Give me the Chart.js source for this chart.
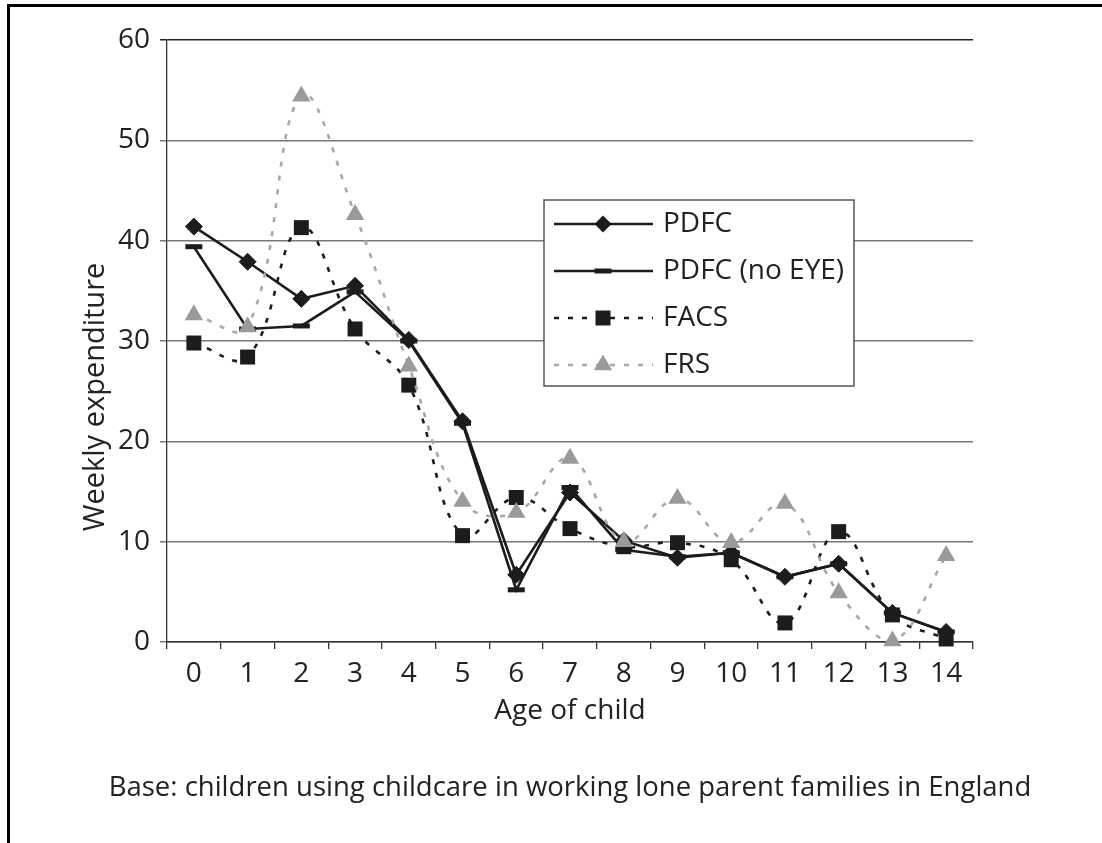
<!DOCTYPE html>
<html>
<head>
<meta charset="utf-8">
<script src="https://cdn.jsdelivr.net/npm/chart.js@4/dist/chart.umd.min.js"></script>
<style>
html,body{margin:0;padding:0;background:#fff;}
#wrap{position:relative;width:1102px;height:843px;overflow:hidden;background:#fff;}
#frame{position:absolute;left:7px;top:4px;width:1200px;height:1000px;border-top:3px solid #000;border-left:3px solid #000;}
#c{position:absolute;left:0;top:0;}
#note{position:absolute;left:0;width:1140px;top:771px;text-align:center;font-family:"Open Sans",sans-serif;font-size:27.5px;line-height:30px;color:#222;white-space:nowrap;}
</style>
</head>
<body>
<div id="wrap">
  <div id="frame"></div>
  <canvas id="c" width="1102" height="843"></canvas>
  <div id="note">Base: children using childcare in working lone parent families in England</div>
</div>
<script>
// ---- data ----
const ages = ['0','1','2','3','4','5','6','7','8','9','10','11','12','13','14'];
const pdfc      = [41.4, 37.9, 34.2, 35.5, 30.1, 22.0, 6.7, 14.9, 10.1, 8.4, 8.9, 6.5, 7.8, 2.9, 1.0];
const pdfcNoEye = [39.4, 31.2, 31.5, 34.9, 30.0, 21.8, 5.2, 15.4, 9.2, 8.5, 8.9, 6.5, 7.8, 2.9, 1.0];
const facs      = [29.8, 28.4, 41.3, 31.2, 25.6, 10.6, 14.4, 11.3, 9.5, 9.9, 8.2, 1.9, 11.0, 2.7, 0.3];
const frs       = [32.6, 31.4, 54.4, 42.6, 27.5, 14.0, 12.9, 18.3, 10.0, 14.3, 9.9, 13.8, 4.9, 0.1, 8.6];
const seriesNames = ['PDFC', 'PDFC (no EYE)', 'FACS', 'FRS'];
const yTicks = [0, 10, 20, 30, 40, 50, 60];
const xTitle = 'Age of child';
const yTitle = 'Weekly expenditure';

const FONT = '"Open Sans", sans-serif';
const DARK = '#1c1c1c';
const GREY = '#9a9a9a';

const styles = [
  {color: DARK, dash: [], point: 'rectRot', r: 8.5, pbw: 1, lw: 2.6, tension: 0, fill: DARK},
  {color: DARK, dash: [], point: 'line', r: 8.5, pbw: 5, lw: 2.6, tension: 0, fill: DARK},
  {color: DARK, dash: [5, 9], point: 'rect', r: 10.6, pbw: 0, lw: 2.6, tension: 0.4, fill: DARK},
  {color: '#a8a8a8', dash: [5, 9], point: 'triangle', r: 10.6, pbw: 0, lw: 2.6, tension: 0.4, fill: GREY}
];
const allData = [pdfc, pdfcNoEye, facs, frs];

const datasets = allData.map((d, i) => ({
  label: seriesNames[i],
  data: d,
  borderColor: styles[i].color,
  borderWidth: styles[i].lw,
  borderDash: styles[i].dash,
  tension: styles[i].tension,
  pointStyle: styles[i].point,
  pointRadius: styles[i].r,
  pointHoverRadius: styles[i].r,
  pointBackgroundColor: styles[i].fill,
  pointBorderColor: styles[i].fill,
  pointBorderWidth: styles[i].pbw,
  fill: false,
  clip: false,
  order: 4 - i
}));

function drawMarker(ctx, style, x, y) {
  const s = styles[style];
  ctx.save();
  ctx.setLineDash([]);
  ctx.fillStyle = s.fill;
  ctx.strokeStyle = s.fill;
  const r = s.r;
  ctx.beginPath();
  if (s.point === 'rectRot') {
    ctx.moveTo(x, y - r); ctx.lineTo(x + r, y); ctx.lineTo(x, y + r); ctx.lineTo(x - r, y); ctx.closePath();
    ctx.fill();
  } else if (s.point === 'line') {
    ctx.lineWidth = s.pbw;
    ctx.moveTo(x - r, y); ctx.lineTo(x + r, y); ctx.stroke();
  } else if (s.point === 'rect') {
    const h = r * Math.SQRT1_2;
    ctx.rect(x - h, y - h, 2 * h, 2 * h); ctx.fill();
  } else if (s.point === 'triangle') {
    ctx.moveTo(x, y - r);
    ctx.lineTo(x + r * Math.cos(Math.PI / 6), y + r / 2);
    ctx.lineTo(x - r * Math.cos(Math.PI / 6), y + r / 2);
    ctx.closePath(); ctx.fill();
  }
  ctx.restore();
}

const boxLegend = {
  id: 'boxLegend',
  afterDraw(chart) {
    const ctx = chart.ctx;
    const bx = 544, by = 200, bw = 310, bh = 186;
    ctx.save();
    ctx.fillStyle = '#fff';
    ctx.fillRect(bx, by, bw, bh);
    ctx.strokeStyle = '#555';
    ctx.lineWidth = 1.5;
    ctx.strokeRect(bx, by, bw, bh);
    seriesNames.forEach((name, i) => {
      const y = 224 + i * 47;
      const s = styles[i];
      ctx.save();
      ctx.strokeStyle = s.color;
      ctx.lineWidth = s.lw;
      ctx.setLineDash(s.dash);
      ctx.beginPath();
      ctx.moveTo(554, y); ctx.lineTo(653, y);
      ctx.stroke();
      ctx.restore();
      drawMarker(ctx, i, 603, y);
      ctx.fillStyle = '#222';
      ctx.font = '28px ' + FONT;
      ctx.textAlign = 'left';
      ctx.textBaseline = 'middle';
      ctx.fillText(name, 663, y);
    });
    // y axis title
    ctx.save();
    ctx.translate(96, 397);
    ctx.rotate(-Math.PI / 2);
    ctx.fillStyle = '#222';
    ctx.font = '29px ' + FONT;
    ctx.textAlign = 'center';
    ctx.textBaseline = 'middle';
    ctx.fillText(yTitle, 0, 0);
    ctx.restore();
    ctx.restore();
  }
};

new Chart(document.getElementById('c'), {
  type: 'line',
  data: {labels: ages, datasets: datasets},
  options: {
    responsive: false,
    animation: false,
    devicePixelRatio: 1,
    events: [],
    layout: {padding: {left: 0, top: 40, right: 129, bottom: 0}},
    plugins: {legend: {display: false}, tooltip: {enabled: false}, title: {display: false}},
    scales: {
      x: {
        type: 'category',
        offset: true,
        grid: {offset: true, drawOnChartArea: false, drawTicks: true, tickLength: 7, color: '#333', lineWidth: 1.3},
        border: {color: '#333', width: 1.5},
        ticks: {font: {family: FONT, size: 28}, color: '#222', padding: 8, maxRotation: 0, autoSkip: false},
        title: {display: true, text: xTitle, font: {family: FONT, size: 28}, color: '#222', padding: {top: 0, bottom: 115}},
        afterFit: s => { s.height = 201; }
      },
      y: {
        min: 0, max: 60,
        afterBuildTicks: s => { s.ticks = yTicks.map(v => ({value: v})); },
        grid: {color: c => (c.tick && c.tick.value === 60) ? '#222' : '#777', lineWidth: 1.5, drawTicks: true, tickLength: 7},
        border: {color: '#333', width: 1.3},
        ticks: {font: {family: FONT, size: 28}, color: '#222', padding: 10},
        afterFit: s => { s.width = 167; }
      }
    }
  },
  plugins: [boxLegend]
});
</script>
</body>
</html>
